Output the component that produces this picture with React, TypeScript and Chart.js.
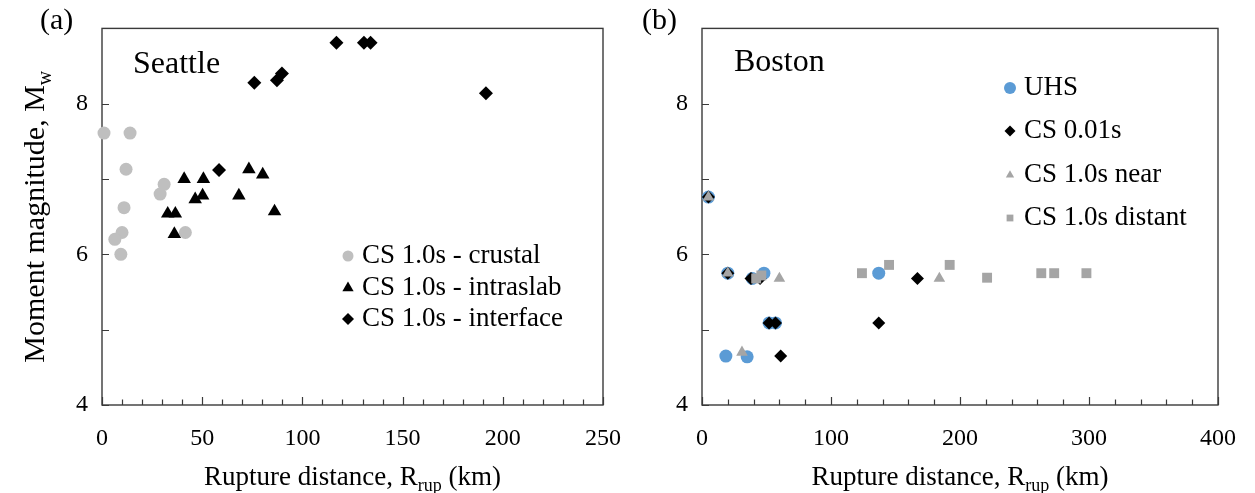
import React, { useEffect, useRef } from 'react';
import { Chart, registerables } from 'chart.js';

Chart.register(...registerables);

// ---------- Seattle (a) ----------
const crustalX = [1, 14, 12, 31, 29, 11, 10, 6.4, 9.4, 41.6];
const crustalY = [7.61, 7.61, 7.13, 6.93, 6.8, 6.62, 6.29, 6.2, 6.0, 6.29];
const intraslabX = [41, 50.6, 73.3, 80.2, 68.3, 50.2, 46.5, 32.8, 36.6, 86.1, 36.1];
const intraslabY = [7.0, 7.0, 7.13, 7.06, 6.78, 6.78, 6.73, 6.54, 6.54, 6.57, 6.27];
const interfaceX = [117, 130.7, 134, 76, 87.3, 89.8, 191.6, 58.4];
const interfaceY = [8.81, 8.81, 8.81, 8.28, 8.31, 8.4, 8.14, 7.12];

// ---------- Boston (b) ----------
const uhsX = [5, 20, 39, 48, 137, 52, 57, 18.5, 35];
const uhsY = [6.76, 5.75, 5.68, 5.75, 5.75, 5.09, 5.09, 4.65, 4.64];
const cs001X = [5, 20, 38, 45, 52, 57, 137, 167, 61];
const cs001Y = [6.76, 5.75, 5.68, 5.68, 5.09, 5.09, 5.09, 5.68, 4.65];
const nearX = [5, 20, 60, 31, 184];
const nearY = [6.76, 5.75, 5.68, 4.7, 5.68];
const distantX = [42, 46, 124, 145, 192, 221, 263, 273, 298];
const distantY = [5.68, 5.72, 5.75, 5.86, 5.86, 5.69, 5.75, 5.75, 5.75];

// ---------- axes ----------
const yMin = 4;
const yMax = 9;
const yLabelValues = [4, 6, 8];
const xMaxA = 250;
const xMaxB = 400;
const xLabelValuesA = [0, 50, 100, 150, 200, 250];
const xLabelValuesB = [0, 100, 200, 300, 400];

const SERIF = "'Liberation Serif', 'Times New Roman', serif";
const GRAY_LIGHT = '#BFBFBF';
const GRAY_MID = '#A5A5A5';
const BLUE = '#5B9BD5';
const BLACK = '#000000';
const FRAME = '#3a3a3a';

type Shape = 'circle' | 'triangle' | 'diamond' | 'square';
type LegendItem = { label: string; shape: Shape; color: string; r: number };
type Part = { t: string; sub?: boolean };

function drawMarker(ctx: CanvasRenderingContext2D, shape: Shape, x: number, y: number, r: number, color: string) {
  ctx.fillStyle = color;
  ctx.beginPath();
  if (shape === 'circle') ctx.arc(x, y, r, 0, Math.PI * 2);
  else if (shape === 'triangle') {
    ctx.moveTo(x, y - r);
    ctx.lineTo(x + r * 0.866, y + r * 0.5);
    ctx.lineTo(x - r * 0.866, y + r * 0.5);
    ctx.closePath();
  } else if (shape === 'diamond') {
    ctx.moveTo(x, y - r);
    ctx.lineTo(x + r, y);
    ctx.lineTo(x, y + r);
    ctx.lineTo(x - r, y);
    ctx.closePath();
  } else {
    const h = r * 0.707;
    ctx.rect(x - h, y - h, 2 * h, 2 * h);
  }
  ctx.fill();
}

function drawParts(ctx: CanvasRenderingContext2D, parts: Part[], cx: number, y: number, size: number) {
  const main = `${size}px ${SERIF}`;
  const sub = `${Math.round(size * 0.65)}px ${SERIF}`;
  const widths = parts.map((p) => {
    ctx.font = p.sub ? sub : main;
    return ctx.measureText(p.t).width;
  });
  const total = widths.reduce((a, b) => a + b, 0);
  let x = cx - total / 2;
  ctx.textAlign = 'left';
  ctx.textBaseline = 'alphabetic';
  parts.forEach((p, i) => {
    ctx.font = p.sub ? sub : main;
    ctx.fillText(p.t, x, y + (p.sub ? size * 0.22 : 0));
    x += widths[i];
  });
}

type PanelCfg = {
  xMinor: number;
  xMajor: number;
  xMax: number;
  panel: string;
  panelX: number;
  city: string;
  cityX: number;
  cityY: number;
  legend: LegendItem[];
  legendX: number;
  legendTextX: number;
  legendRows: number[];
  yTitleX: number;
};

function makePlugin(cfg: PanelCfg) {
  return {
    id: 'panelDecor',
    beforeDatasetsDraw(chart: any) {
      const { ctx, chartArea: a, scales } = chart;
      ctx.save();
      ctx.strokeStyle = FRAME;
      ctx.lineWidth = 1.4;
      ctx.strokeRect(a.left, a.top, a.right - a.left, a.bottom - a.top);
      ctx.lineWidth = 1.2;
      ctx.beginPath();
      for (let v = yMin; v <= yMax; v += 1) {
        const py = Math.round(scales.y.getPixelForValue(v)) + 0.5;
        ctx.moveTo(a.left, py);
        ctx.lineTo(a.left + 7, py);
      }
      for (let v = 0; v <= cfg.xMax; v += cfg.xMinor) {
        const px = Math.round(scales.x.getPixelForValue(v)) + 0.5;
        const len = v % cfg.xMajor === 0 ? 8 : 5.5;
        ctx.moveTo(px, a.bottom);
        ctx.lineTo(px, a.bottom - len);
      }
      ctx.stroke();
      ctx.restore();
    },
    afterDraw(chart: any) {
      const { ctx, chartArea: a } = chart;
      ctx.save();
      ctx.fillStyle = '#000';
      ctx.font = `30px ${SERIF}`;
      ctx.textAlign = 'left';
      ctx.textBaseline = 'alphabetic';
      ctx.fillText(cfg.panel, cfg.panelX, 29);
      ctx.font = `32px ${SERIF}`;
      ctx.fillText(cfg.city, cfg.cityX, cfg.cityY);
      cfg.legend.forEach((it, i) => {
        const y = cfg.legendRows[i];
        drawMarker(ctx, it.shape, cfg.legendX, y, it.r, it.color);
        ctx.fillStyle = '#000';
        ctx.font = `27px ${SERIF}`;
        ctx.textAlign = 'left';
        ctx.textBaseline = 'middle';
        ctx.fillText(it.label, cfg.legendTextX, y);
      });
      ctx.fillStyle = '#000';
      drawParts(
        ctx,
        [{ t: 'Rupture distance, R' }, { t: 'rup', sub: true }, { t: ' (km)' }],
        (a.left + a.right) / 2,
        485,
        27
      );
      if (cfg.yTitleX > 0) {
        ctx.save();
        ctx.translate(cfg.yTitleX, (a.top + a.bottom) / 2);
        ctx.rotate(-Math.PI / 2);
        drawParts(ctx, [{ t: 'Moment magnitude, M' }, { t: 'w', sub: true }], 0, 0, 30);
        ctx.restore();
      }
      ctx.restore();
    },
  };
}

function pts(xs: number[], ys: number[]) {
  return xs.map((x, i) => ({ x, y: ys[i] }));
}

function ds(label: string, data: any[], style: string, r: number, color: string, order: number) {
  return {
    label,
    data,
    pointStyle: style,
    pointRadius: r,
    pointHoverRadius: r,
    pointBackgroundColor: color,
    pointBorderColor: color,
    pointBorderWidth: 0,
    backgroundColor: color,
    borderColor: color,
    showLine: false,
    clip: false as any,
    order,
  };
}

function buildOptions(xMax: number, xStep: number, xLabelVals: number[], yAxisWidth: number, padRight: number, padTop: number) {
  const tickFont = { family: SERIF, size: 24 };
  return {
    animation: false as const,
    responsive: false,
    maintainAspectRatio: false,
    devicePixelRatio: 1,
    events: [] as any[],
    layout: { padding: { left: 0, right: padRight, top: padTop, bottom: 0 } },
    plugins: { legend: { display: false }, tooltip: { enabled: false } },
    scales: {
      x: {
        type: 'linear' as const,
        min: 0,
        max: xMax,
        ticks: {
          stepSize: xStep,
          autoSkip: false,
          maxRotation: 0,
          color: '#000',
          font: tickFont,
          padding: 19,
          callback: (v: any) => (xLabelVals.includes(Number(v)) ? String(v) : ''),
        },
        grid: { display: false, drawTicks: false },
        border: { display: false },
        afterFit: (s: any) => {
          s.height = 88;
        },
      },
      y: {
        type: 'linear' as const,
        min: yMin,
        max: yMax,
        ticks: {
          stepSize: 1,
          autoSkip: false,
          color: '#000',
          font: tickFont,
          padding: 14,
          callback: (v: any) => (yLabelValues.includes(Number(v)) ? String(v) : ''),
        },
        grid: { display: false, drawTicks: false },
        border: { display: false },
        afterFit: (s: any) => {
          s.width = yAxisWidth;
        },
      },
    },
  };
}

export default function App() {
  const refA = useRef<HTMLCanvasElement>(null);
  const refB = useRef<HTMLCanvasElement>(null);

  useEffect(() => {
    document.body.style.margin = '0';
    const chartA = new Chart(refA.current as HTMLCanvasElement, {
      type: 'scatter',
      data: {
        datasets: [
          ds('CS 1.0s - crustal', pts(crustalX, crustalY), 'circle', 6.5, GRAY_LIGHT, 2),
          ds('CS 1.0s - intraslab', pts(intraslabX, intraslabY), 'triangle', 7.8, BLACK, 1),
          ds('CS 1.0s - interface', pts(interfaceX, interfaceY), 'rectRot', 7, BLACK, 0),
        ] as any,
      },
      options: buildOptions(xMaxA, 10, xLabelValuesA, 102, 33, 25) as any,
      plugins: [
        makePlugin({
          xMinor: 10,
          xMajor: 50,
          xMax: xMaxA,
          panel: '(a)',
          panelX: 40,
          city: 'Seattle',
          cityX: 133,
          cityY: 73,
          legend: [
            { label: 'CS 1.0s - crustal', shape: 'circle', color: GRAY_LIGHT, r: 5.5 },
            { label: 'CS 1.0s - intraslab', shape: 'triangle', color: BLACK, r: 6.5 },
            { label: 'CS 1.0s - interface', shape: 'diamond', color: BLACK, r: 6 },
          ],
          legendX: 348,
          legendTextX: 362,
          legendRows: [256, 288, 319],
          yTitleX: 44,
        }) as any,
      ],
    });
    const chartB = new Chart(refB.current as HTMLCanvasElement, {
      type: 'scatter',
      data: {
        datasets: [
          ds('UHS', pts(uhsX, uhsY), 'circle', 6.5, BLUE, 3),
          ds('CS 0.01s', pts(cs001X, cs001Y), 'rectRot', 6.5, BLACK, 2),
          ds('CS 1.0s near', pts(nearX, nearY), 'triangle', 6.7, GRAY_MID, 1),
          ds('CS 1.0s distant', pts(distantX, distantY), 'rect', 7, GRAY_MID, 0),
        ] as any,
      },
      options: buildOptions(xMaxB, 20, xLabelValuesB, 62, 28, 23) as any,
      plugins: [
        makePlugin({
          xMinor: 20,
          xMajor: 100,
          xMax: xMaxB,
          panel: '(b)',
          panelX: 2,
          city: 'Boston',
          cityX: 94,
          cityY: 71,
          legend: [
            { label: 'UHS', shape: 'circle', color: BLUE, r: 6 },
            { label: 'CS 0.01s', shape: 'diamond', color: BLACK, r: 5.5 },
            { label: 'CS 1.0s near', shape: 'triangle', color: GRAY_MID, r: 4.8 },
            { label: 'CS 1.0s distant', shape: 'square', color: GRAY_MID, r: 4.8 },
          ],
          legendX: 370,
          legendTextX: 384,
          legendRows: [88, 131, 175, 218],
          yTitleX: 0,
        }) as any,
      ],
    });
    return () => {
      chartA.destroy();
      chartB.destroy();
    };
  }, []);

  return (
    <div style={{ position: 'relative', width: 1255, height: 493, background: '#fff' }}>
      <canvas ref={refA} width={640} height={493} style={{ position: 'absolute', left: 0, top: 0, width: 640, height: 493 }} />
      <canvas ref={refB} width={615} height={493} style={{ position: 'absolute', left: 640, top: 0, width: 615, height: 493 }} />
    </div>
  );
}
